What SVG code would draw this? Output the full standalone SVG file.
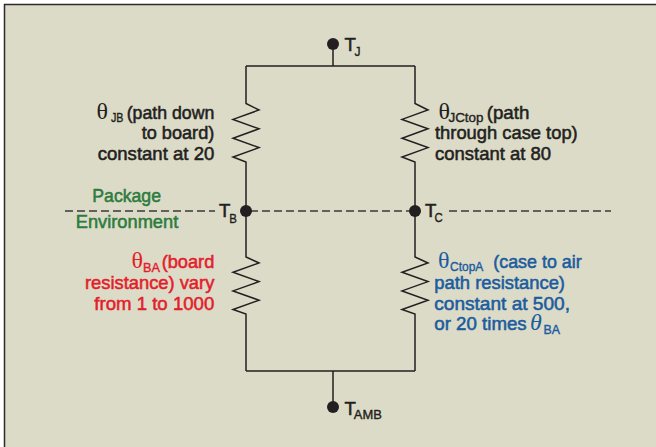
<svg xmlns="http://www.w3.org/2000/svg" width="656" height="447" viewBox="0 0 656 447">
  <style>
    .wire { fill: none; stroke: #231f20; stroke-width: 1.5; stroke-linejoin: miter; }
    .dash { fill: none; stroke: #3a3a3a; stroke-width: 1.3; stroke-dasharray: 8 4; }
    .dot { fill: #231f20; }
    .t { font-family: "Liberation Sans", Arial, sans-serif; font-size: 18.6px; stroke-width: 0.55; }
    .sub { font-family: "Liberation Sans", Arial, sans-serif; font-size: 13.5px; stroke-width: 0.4; }
    .th { font-family: "Liberation Serif", "DejaVu Serif", serif; font-size: 24px; }
    .dark { fill: #231f20; stroke: #231f20; }
    .red { fill: #e31e2b; stroke: #e31e2b; }
    .blue { fill: #1b5c9e; stroke: #1b5c9e; }
    .green { fill: #2e7b3e; stroke: #2e7b3e; }
    .th.dark, .th.red, .th.blue { stroke: none; }
  </style>
  <rect x="0" y="0" width="656" height="447" fill="#ffffff"/>
  <rect x="4.5" y="4.5" width="660" height="460" fill="#dcdbc8" stroke="#2b2b2b" stroke-width="1.5"/>

  <g id="connectors">
    <line class="dash" x1="65" y1="211" x2="215" y2="211"/>
    <line class="dash" x1="250" y1="211" x2="412" y2="211"/>
    <line class="dash" x1="449" y1="211" x2="611" y2="211"/>
    <line class="wire" x1="333" y1="44" x2="333" y2="66"/>
    <line class="wire" x1="246" y1="66" x2="415" y2="66"/>
    <path class="wire" d="M246,66 V103.5 L259,110 L233,119.4 L259,128.8 L233,138.2 L259,147.6 L233,157 L246,162 V211"/>
    <path class="wire" d="M246,211 V257 L259,263 L233,272.3 L259,281.6 L233,290.9 L259,300.2 L233,309.5 L246,314 V371"/>
    <path class="wire" d="M415,66 V103.5 L428,110 L402,119.4 L428,128.8 L402,138.2 L428,147.6 L402,157 L415,162 V211"/>
    <path class="wire" d="M415,211 V257 L428,263 L402,272.3 L428,281.6 L402,290.9 L428,300.2 L402,309.5 L415,314 V371"/>
    <line class="wire" x1="246" y1="371" x2="415" y2="371"/>
    <line class="wire" x1="333" y1="371" x2="333" y2="407"/>
  </g>

  <g id="TJ">
    <circle class="dot" cx="333" cy="44" r="6"/>
    <text class="t dark" x="344.5" y="51">T</text>
    <text class="sub dark" x="354.5" y="56" textLength="6" lengthAdjust="spacingAndGlyphs">J</text>
  </g>
  <g id="TB">
    <circle class="dot" cx="246" cy="211" r="6"/>
    <text class="t dark" x="219" y="216.7">T</text>
    <text class="sub dark" x="229.3" y="223.3" textLength="7.6" lengthAdjust="spacingAndGlyphs">B</text>
  </g>
  <g id="TC">
    <circle class="dot" cx="415" cy="211" r="6"/>
    <text class="t dark" x="425" y="216.7">T</text>
    <text class="sub dark" x="434.5" y="222" textLength="8.2" lengthAdjust="spacingAndGlyphs">C</text>
  </g>
  <g id="TAMB">
    <circle class="dot" cx="333" cy="407" r="6"/>
    <text class="t dark" x="344.5" y="415">T</text>
    <text class="sub dark" x="353.8" y="418.7" textLength="28" lengthAdjust="spacingAndGlyphs">AMB</text>
  </g>

  <g id="boundary-labels">
    <text class="t green" x="92.3" y="201.7" textLength="68.7" lengthAdjust="spacingAndGlyphs">Package</text>
    <text class="t green" x="75.7" y="228.3" textLength="102.6" lengthAdjust="spacingAndGlyphs">Environment</text>
  </g>

  <g id="theta-JB">
    <text class="th dark" x="96.5" y="118.5">θ</text>
    <text class="sub dark" x="111" y="122" textLength="12.5" lengthAdjust="spacingAndGlyphs">JB</text>
    <text class="t dark" x="214.3" y="118.5" text-anchor="end" textLength="87.6" lengthAdjust="spacingAndGlyphs">(path down</text>
    <text class="t dark" x="214.3" y="139" text-anchor="end" textLength="72.6" lengthAdjust="spacingAndGlyphs">to board)</text>
    <text class="t dark" x="214.3" y="159.5" text-anchor="end" textLength="116.6" lengthAdjust="spacingAndGlyphs">constant at 20</text>
  </g>

  <g id="theta-JCtop">
    <text class="th dark" x="438.5" y="118.5">θ</text>
    <text class="sub dark" x="448.5" y="121.7" textLength="35" lengthAdjust="spacingAndGlyphs">JCtop</text>
    <text class="t dark" x="486.7" y="118.5" textLength="42.6" lengthAdjust="spacingAndGlyphs">(path</text>
    <text class="t dark" x="435" y="139" textLength="142.7" lengthAdjust="spacingAndGlyphs">through case top)</text>
    <text class="t dark" x="435" y="159.5" textLength="116" lengthAdjust="spacingAndGlyphs">constant at 80</text>
  </g>

  <g id="theta-BA">
    <text class="th red" x="131.5" y="267.7">θ</text>
    <text class="sub red" x="143" y="271.5" textLength="17" lengthAdjust="spacingAndGlyphs">BA</text>
    <text class="t red" x="214.3" y="267.7" text-anchor="end" textLength="52.6" lengthAdjust="spacingAndGlyphs">(board</text>
    <text class="t red" x="214.3" y="289.3" text-anchor="end" textLength="129.3" lengthAdjust="spacingAndGlyphs">resistance) vary</text>
    <text class="t red" x="214.3" y="310" text-anchor="end" textLength="120" lengthAdjust="spacingAndGlyphs">from 1 to 1000</text>
  </g>

  <g id="theta-CtopA">
    <text class="th blue" x="438" y="267.7">θ</text>
    <text class="sub blue" x="450" y="270.7" textLength="33.3" lengthAdjust="spacingAndGlyphs">CtopA</text>
    <text class="t blue" x="493.3" y="267.7" textLength="88.4" lengthAdjust="spacingAndGlyphs">(case to air</text>
    <text class="t blue" x="434.3" y="289.3" textLength="130.7" lengthAdjust="spacingAndGlyphs">path resistance)</text>
    <text class="t blue" x="434.3" y="310" textLength="135.7" lengthAdjust="spacingAndGlyphs">constant at 500,</text>
    <text class="t blue" x="434.3" y="330" textLength="92.4" lengthAdjust="spacingAndGlyphs">or 20 times</text>
    <text class="th blue" x="530" y="330" font-style="italic">θ</text>
    <text class="sub blue" x="543.5" y="333.7" textLength="16.5" lengthAdjust="spacingAndGlyphs">BA</text>
  </g>
</svg>
